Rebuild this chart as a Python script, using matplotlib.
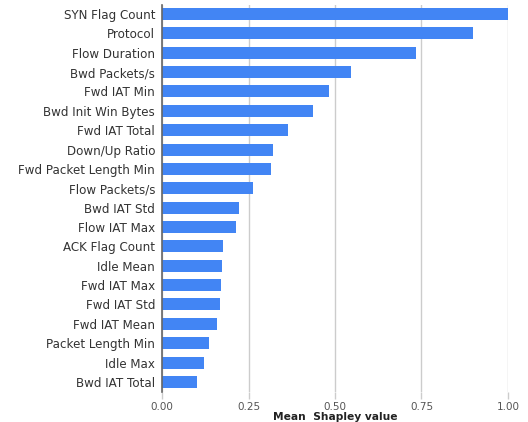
import matplotlib.pyplot as plt

features = ["SYN Flag Count", "Protocol", "Flow Duration", "Bwd Packets/s",
            "Fwd IAT Min", "Bwd Init Win Bytes", "Fwd IAT Total", "Down/Up Ratio",
            "Fwd Packet Length Min", "Flow Packets/s", "Bwd IAT Std", "Flow IAT Max",
            "ACK Flag Count", "Idle Mean", "Fwd IAT Max", "Fwd IAT Std",
            "Fwd IAT Mean", "Packet Length Min", "Idle Max", "Bwd IAT Total"]
shap = [1.00, 0.899, 0.734, 0.545, 0.483, 0.437, 0.364, 0.320, 0.315, 0.263,
        0.222, 0.213, 0.176, 0.173, 0.170, 0.167, 0.160, 0.135, 0.121, 0.101]
ticks = [0.0, 0.25, 0.5, 0.75, 1.0]
tick_labels = ["0.00", "0.25", "0.50", "0.75", "1.00"]

plt.rcParams['font.family'] = ['DejaVu Sans']

fig = plt.figure(figsize=(5.28, 4.22), dpi=100)
ax = fig.add_axes([0.307, 0.071, 0.655, 0.917])

ax.barh(range(len(features)), shap, height=0.62, color="#4285F4", zorder=3)
ax.set_ylim(len(features) - 0.48, -0.46)
ax.set_xlim(0, 1.0)

ax.set_yticks(range(len(features)))
ax.set_yticklabels(features, fontsize=8.6, color="#333333")
ax.set_xticks(ticks)
ax.set_xticklabels(tick_labels, fontsize=7.5, color="#555555")
ax.tick_params(axis="y", length=0, pad=5)
ax.tick_params(axis="x", length=5, width=1, color="#cccccc", pad=2)

ax.grid(axis="x", color="#cccccc", linewidth=1, zorder=0)
for s in ["top", "right", "bottom"]:
    ax.spines[s].set_visible(False)
ax.spines["left"].set_color("#666666")
ax.spines["left"].set_linewidth(1.2)
ax.spines["left"].set_zorder(4)

ax.set_xlabel("Mean  Shapley value", fontsize=7.7, fontweight="bold", color="#222222", labelpad=0)

fig.savefig("out.png", dpi=100)
